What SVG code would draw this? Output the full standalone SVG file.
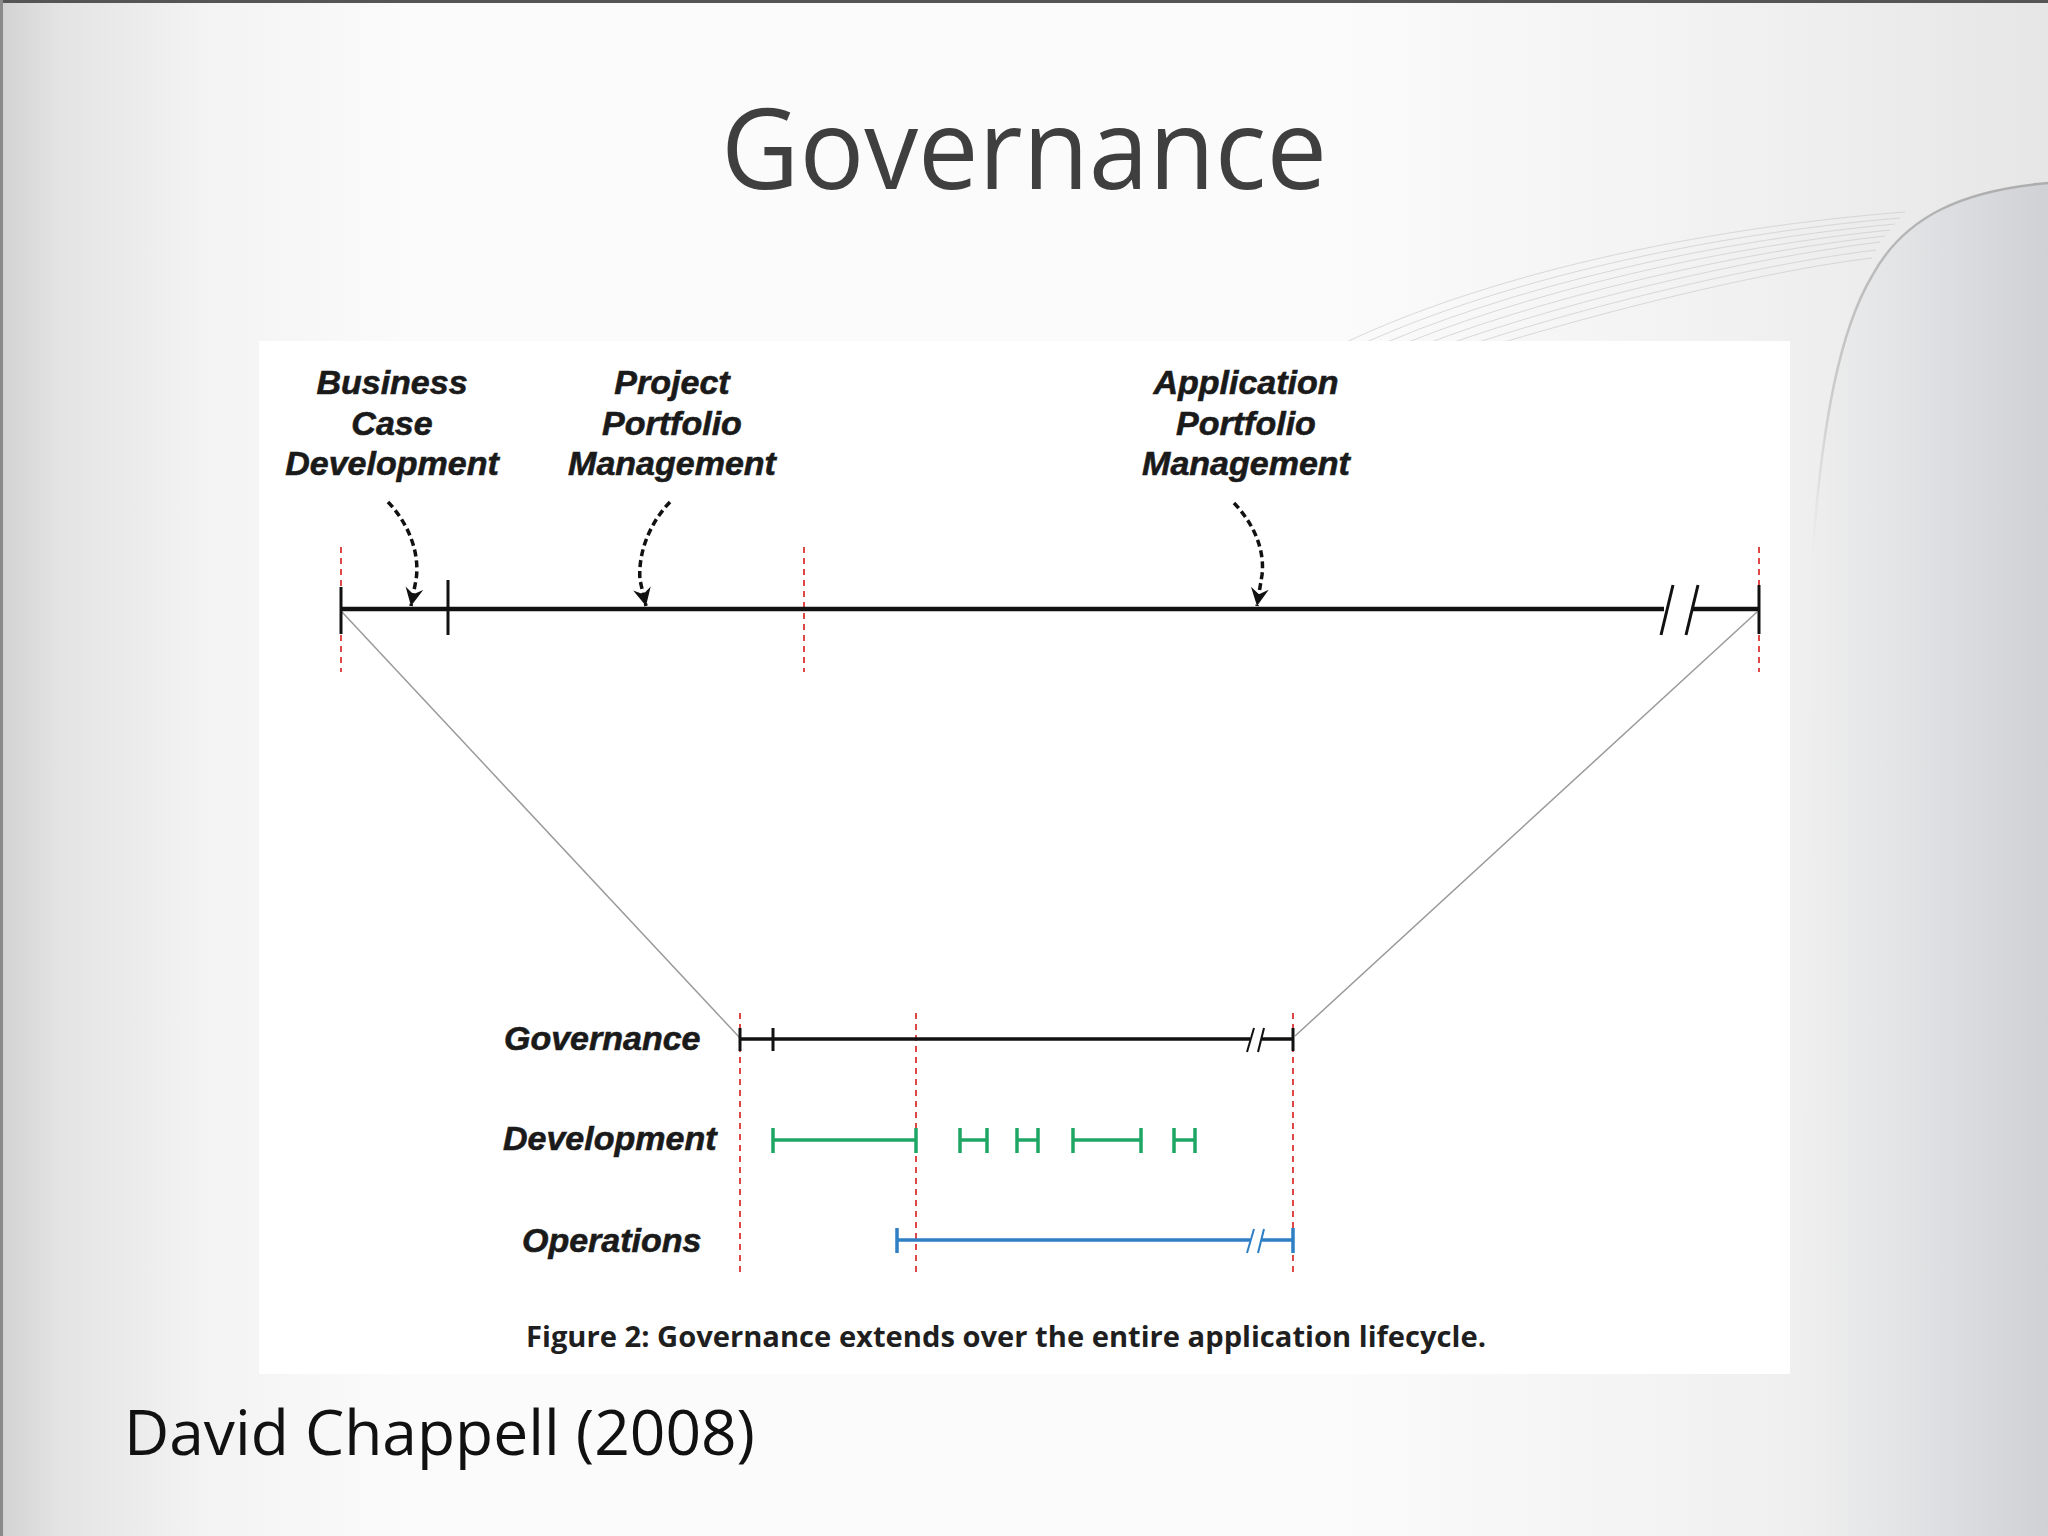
<svg xmlns="http://www.w3.org/2000/svg" width="2048" height="1536" viewBox="0 0 2048 1536">
<defs>
<linearGradient id="bg" x1="0" y1="0" x2="1" y2="0">
<stop offset="0" stop-color="#d2d2d2"/>
<stop offset="0.03" stop-color="#e4e4e4"/>
<stop offset="0.1" stop-color="#f3f3f3"/>
<stop offset="0.2" stop-color="#fbfbfb"/>
<stop offset="0.65" stop-color="#fbfbfb"/>
<stop offset="0.85" stop-color="#f1f1f1"/>
<stop offset="1" stop-color="#e6e6e6"/>
</linearGradient>
<linearGradient id="swoosh" x1="0" y1="0" x2="1" y2="0">
<stop offset="0" stop-color="#efefef"/>
<stop offset="0.4" stop-color="#e3e4e6"/>
<stop offset="1" stop-color="#d0d1d5"/>
</linearGradient>
<linearGradient id="edgefade" x1="0" y1="0" x2="0" y2="1">
<stop offset="0" stop-color="#a8a8a8" stop-opacity="0.9"/>
<stop offset="0.6" stop-color="#b8b8b8" stop-opacity="0.6"/>
<stop offset="1" stop-color="#cccccc" stop-opacity="0"/>
</linearGradient>
<marker id="chev" viewBox="0 0 20 20" refX="19" refY="10" markerWidth="20" markerHeight="20" markerUnits="userSpaceOnUse" orient="auto">
<path d="M1,1 L19,10 L1,19 L7,10 Z" fill="#111"/>
</marker>
<style>
.lbl{font-family:"Liberation Sans",Arial,sans-serif;font-weight:bold;font-style:italic;font-size:34px;fill:#1a1a1a;stroke:#1a1a1a;stroke-width:0.6px}
.mid{text-anchor:middle}
.red{stroke:#e04848;stroke-width:2;stroke-dasharray:6 5;fill:none}
.blk{stroke:#111;stroke-width:4.5;fill:none}
.blk3{stroke:#111;stroke-width:3;fill:none}
.gov{stroke:#111;stroke-width:3.5;fill:none}
.grn{stroke:#1ea664;stroke-width:3.5;fill:none}
.blu{stroke:#2f7fc4;stroke-width:3.5;fill:none}
.gray{stroke:#9a9a9a;stroke-width:1.5;fill:none}
.darr{stroke:#111;stroke-width:3.5;stroke-dasharray:7 4;fill:none;marker-end:url(#chev)}
.fan{stroke:#cdcdcd;stroke-width:1;fill:none;opacity:0.7}
</style>
</defs>

<g id="background">
<rect x="0" y="0" width="2048" height="1536" fill="url(#bg)"/>
<path d="M1800,1536 L1812,560 C1822,420 1840,330 1872,276 C1905,215 1965,190 2048,183 L2048,1536 Z" fill="url(#swoosh)"/>
<path d="M1812,560 C1822,420 1840,330 1872,276 C1905,215 1965,190 2048,183" fill="none" stroke="url(#edgefade)" stroke-width="2.5"/>
<g class="fan">
<path d="M1330,350 C1480,275 1700,228 1905,212"/>
<path d="M1345,352 C1495,280 1710,234 1900,218"/>
<path d="M1360,354 C1510,285 1720,240 1895,224"/>
<path d="M1375,356 C1525,290 1730,246 1890,230"/>
<path d="M1390,358 C1540,296 1740,252 1885,236"/>
<path d="M1405,360 C1555,302 1750,258 1880,242"/>
<path d="M1420,362 C1570,308 1760,264 1876,250"/>
<path d="M1435,364 C1585,314 1770,270 1872,258"/>
</g>
<rect x="0" y="0" width="2048" height="3" fill="#555"/>
<rect x="0" y="0" width="3" height="1536" fill="#8a8a8a"/>
</g>

<g id="title">
<text x="1024" y="189" text-anchor="middle" font-family="'Open Sans','Noto Sans',sans-serif" font-size="112" fill="#3f3f3f" textLength="606" lengthAdjust="spacingAndGlyphs">Governance</text>
</g>

<g id="panel">
<rect x="259" y="341" width="1531" height="1033" fill="#ffffff"/>
</g>

<g id="connectors">
<line class="gray" x1="342" y1="612" x2="740" y2="1038"/>
<line class="gray" x1="1757" y1="612" x2="1295" y2="1036"/>
<line class="red" x1="341" y1="547" x2="341" y2="672"/>
<line class="red" x1="804" y1="547" x2="804" y2="672"/>
<line class="red" x1="1759" y1="547" x2="1759" y2="672"/>
<line class="red" x1="740" y1="1013" x2="740" y2="1272"/>
<line class="red" x1="916" y1="1013" x2="916" y2="1272"/>
<line class="red" x1="1293" y1="1013" x2="1293" y2="1272"/>
<path class="darr" d="M388,502 C410,525 420,555 416,580 L411,606"/>
<path class="darr" d="M670,502 C648,525 638,555 640,580 L646,606"/>
<path class="darr" d="M1234,503 C1254,524 1265,550 1262,575 L1257,606"/>
</g>

<g id="top-timeline">
<line class="blk" x1="341" y1="609" x2="1664" y2="609"/>
<line class="blk" x1="1692" y1="609" x2="1759" y2="609"/>
<line class="blk3" x1="341" y1="587" x2="341" y2="634"/>
<line class="blk3" x1="448" y1="580" x2="448" y2="635"/>
<line class="blk3" x1="1759" y1="585" x2="1759" y2="634"/>
<line class="blk3" x1="1673" y1="585" x2="1661" y2="635"/>
<line class="blk3" x1="1698" y1="585" x2="1686" y2="635"/>
</g>

<g id="label-business-case">
<text class="lbl mid" x="392" y="394">Business</text>
<text class="lbl mid" x="392" y="435">Case</text>
<text class="lbl mid" x="392" y="475">Development</text>
</g>
<g id="label-project-portfolio">
<text class="lbl mid" x="672" y="394">Project</text>
<text class="lbl mid" x="672" y="435">Portfolio</text>
<text class="lbl mid" x="672" y="475">Management</text>
</g>
<g id="label-application-portfolio">
<text class="lbl mid" x="1246" y="394">Application</text>
<text class="lbl mid" x="1246" y="435">Portfolio</text>
<text class="lbl mid" x="1246" y="475">Management</text>
</g>

<g id="row-governance">
<text class="lbl" x="504" y="1050">Governance</text>
<line class="gov" x1="740" y1="1039" x2="1250" y2="1039"/>
<line class="gov" x1="1262" y1="1039" x2="1293" y2="1039"/>
<line class="blk3" x1="740" y1="1028" x2="740" y2="1051"/>
<line class="blk3" x1="773" y1="1028" x2="773" y2="1051"/>
<line class="blk3" x1="1293" y1="1028" x2="1293" y2="1051"/>
<line stroke="#111" stroke-width="2" x1="1254" y1="1028" x2="1247" y2="1052"/>
<line stroke="#111" stroke-width="2" x1="1264" y1="1028" x2="1258" y2="1052"/>
</g>

<g id="row-development">
<text class="lbl" x="503" y="1150">Development</text>
<path class="grn" d="M773,1140 H916 M773,1128 V1153 M916,1128 V1153"/>
<path class="grn" d="M960,1140 H987 M960,1128 V1153 M987,1128 V1153"/>
<path class="grn" d="M1017,1140 H1038 M1017,1128 V1153 M1038,1128 V1153"/>
<path class="grn" d="M1073,1140 H1141 M1073,1128 V1153 M1141,1128 V1153"/>
<path class="grn" d="M1174,1140 H1195 M1174,1128 V1153 M1195,1128 V1153"/>
</g>

<g id="row-operations">
<text class="lbl" x="522" y="1252">Operations</text>
<path class="blu" d="M897,1240 H1250 M1262,1240 H1293 M897,1228 V1253 M1293,1228 V1253"/>
<line stroke="#2f7fc4" stroke-width="2" x1="1254" y1="1229" x2="1247" y2="1253"/>
<line stroke="#2f7fc4" stroke-width="2" x1="1264" y1="1229" x2="1258" y2="1253"/>
</g>

<g id="caption">
<text x="1006" y="1347" text-anchor="middle" font-family="'Open Sans','Noto Sans',sans-serif" font-weight="bold" font-size="28" fill="#1f1f1f" textLength="960" lengthAdjust="spacingAndGlyphs">Figure 2: Governance extends over the entire application lifecycle.</text>
</g>

<g id="credit">
<text x="124" y="1455" font-family="'Open Sans','Noto Sans',sans-serif" font-size="62" fill="#111" textLength="631" lengthAdjust="spacingAndGlyphs">David Chappell (2008)</text>
</g>
</svg>
